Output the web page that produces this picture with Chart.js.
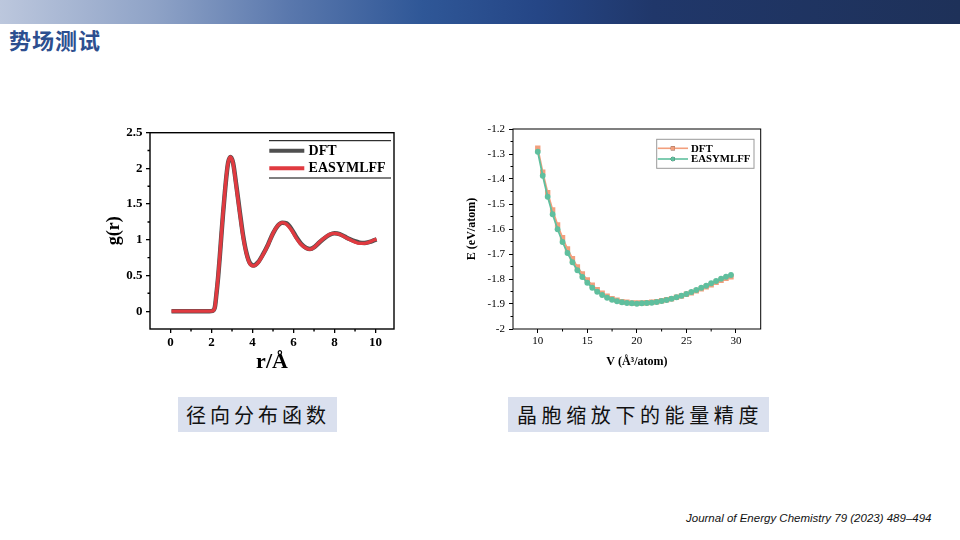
<!DOCTYPE html>
<html>
<head>
<meta charset="utf-8">
<script src="https://cdn.jsdelivr.net/npm/chart.js@4.4.1/dist/chart.umd.min.js"></script>
<style>
html, body { margin: 0; padding: 0; background: #fff; }
#slide { position: relative; width: 960px; height: 540px; overflow: hidden; background: #fff; }
#bar { position: absolute; left: 0; top: 0; width: 960px; height: 24px;
  background: linear-gradient(to right, #bcc7dd 0%, #8fa3c7 16%, #5a78ad 30%, #2f5797 44%, #254686 56%, #20376a 68%, #1e3159 100%); }
#title { position: absolute; left: 9px; top: 28px; font: bold 22px "Noto Sans CJK SC"; color: #2d4f8f; letter-spacing: 1px; line-height: 1; }
.cap { position: absolute; top: 397px; height: 35px; background: #dae0ee; font: 20px "Noto Sans CJK SC"; color: #111;
  line-height: 35px; white-space: nowrap; overflow: hidden; }
#cap1 { left: 178px; width: 159px; padding-left: 8px; box-sizing: border-box; letter-spacing: 4px; }
#cap2 { left: 508px; width: 261px; padding-left: 9px; box-sizing: border-box; letter-spacing: 4.6px; }
#ref { position: absolute; left: 686px; top: 512px; font: italic 11.5px "Liberation Sans", Arial, sans-serif; color: #111; white-space: nowrap; }
#rdf { position: absolute; left: 95px; top: 115px; }
#eos { position: absolute; left: 455px; top: 115px; }
</style>
</head>
<body>
<div id="slide">
  <div id="bar"></div>
  <div id="title">势场测试</div>
  <canvas id="rdf" width="310" height="275"></canvas>
  <canvas id="eos" width="315" height="260"></canvas>
  <div class="cap" id="cap1">径向分布函数</div>
  <div class="cap" id="cap2">晶胞缩放下的能量精度</div>
  <div id="ref">Journal of Energy Chemistry 79 (2023) 489–494</div>
</div>
<script>
// radial distribution function g(r)
var rVals = [0.05, 0.5, 1.0, 1.5, 1.9, 2.05, 2.16, 2.24, 2.32, 2.4, 2.48, 2.56, 2.65, 2.73, 2.81, 2.92,
  3.05, 3.21, 3.38, 3.54, 3.7, 3.86, 4.06, 4.27, 4.51, 4.76, 5.0, 5.24, 5.45, 5.65, 5.89,
  6.14, 6.38, 6.62, 6.8, 7.03, 7.27, 7.52, 7.76, 8.0, 8.25, 8.49, 8.73, 8.98, 9.22, 9.46, 9.71, 9.95, 10.05];
var gDft = [0, 0, 0, 0, 0, 0.005, 0.05, 0.24, 0.47, 0.75, 1.06, 1.36, 1.66, 1.9, 2.08, 2.16,
  2.08, 1.76, 1.39, 1.06, 0.82, 0.68, 0.64, 0.685, 0.795, 0.935, 1.09, 1.2, 1.24, 1.23, 1.155,
  1.035, 0.94, 0.885, 0.87, 0.9, 0.965, 1.025, 1.07, 1.09, 1.08, 1.045, 1.01, 0.98, 0.96, 0.955, 0.97, 0.995, 1.005];
var gMlff = [0, 0, 0, 0, 0, 0.005, 0.05, 0.25, 0.48, 0.76, 1.07, 1.37, 1.67, 1.91, 2.08, 2.16,
  2.07, 1.74, 1.37, 1.04, 0.81, 0.67, 0.635, 0.68, 0.79, 0.93, 1.09, 1.2, 1.24, 1.22, 1.14,
  1.02, 0.93, 0.88, 0.865, 0.9, 0.97, 1.03, 1.075, 1.09, 1.075, 1.04, 1.005, 0.97, 0.95, 0.95, 0.97, 1.0, 1.01];
var rTicks = [0, 2, 4, 6, 8, 10];
var rMinor = [1, 3, 5, 7, 9];
var gTicks = [0, 0.5, 1, 1.5, 2, 2.5];
var gMinor = [0.25, 0.75, 1.25, 1.75, 2.25];

// energy vs volume
var vVals = [10, 10.5, 11, 11.5, 12, 12.5, 13, 13.5, 14, 14.5, 15, 15.5, 16, 16.5, 17, 17.5, 18, 18.5, 19, 19.5,
  20, 20.5, 21, 21.5, 22, 22.5, 23, 23.5, 24, 24.5, 25, 25.5, 26, 26.5, 27, 27.5, 28, 28.5, 29, 29.5];
var eDft = [-1.277, -1.373, -1.455, -1.524, -1.584, -1.635, -1.68, -1.719, -1.752, -1.78,
  -1.804, -1.825, -1.843, -1.857, -1.869, -1.879, -1.885, -1.891, -1.893, -1.896,
  -1.896, -1.896, -1.895, -1.893, -1.891, -1.887, -1.883, -1.879, -1.873, -1.868,
  -1.861, -1.855, -1.847, -1.839, -1.831, -1.823, -1.813, -1.805, -1.797, -1.791];
var eMlff = [-1.291, -1.387, -1.471, -1.541, -1.601, -1.652, -1.696, -1.733, -1.765, -1.792,
  -1.815, -1.835, -1.851, -1.864, -1.875, -1.883, -1.889, -1.893, -1.896, -1.897,
  -1.899, -1.897, -1.896, -1.895, -1.892, -1.888, -1.884, -1.879, -1.873, -1.867,
  -1.86, -1.852, -1.844, -1.835, -1.827, -1.817, -1.808, -1.799, -1.791, -1.784];
var vTicks = [10, 15, 20, 25, 30];
var vMinor = [12.5, 17.5, 22.5, 27.5];
var eTicks = [-2, -1.9, -1.8, -1.7, -1.6, -1.5, -1.4, -1.3, -1.2];
var eMinor = [-1.95, -1.85, -1.75, -1.65, -1.55, -1.45, -1.35, -1.25];

var serif = "'Liberation Serif', 'Times New Roman', serif";

function pairs(xs, ys) {
    return xs.map(function(x, i) { return {x: x, y: ys[i]}; });
}

// box around plot area + minor ticks + legend
var framePlugin = {
    id: 'frame',
    afterDraw: function(chart, args, opts) {
        var ctx = chart.ctx, a = chart.chartArea;
        var xs = chart.scales.x, ys = chart.scales.y;
        ctx.save();
        ctx.strokeStyle = '#000';
        ctx.lineWidth = opts.lineWidth;
        ctx.strokeRect(a.left, a.top, a.right - a.left, a.bottom - a.top);
        ctx.beginPath();
        opts.xMinor.forEach(function(v) {
            var x = xs.getPixelForValue(v);
            ctx.moveTo(x, a.bottom); ctx.lineTo(x, a.bottom + opts.minorLen);
        });
        opts.yMinor.forEach(function(v) {
            var y = ys.getPixelForValue(v);
            ctx.moveTo(a.left, y); ctx.lineTo(a.left - opts.minorLen, y);
        });
        ctx.stroke();

        var L = opts.legend;
        var left = a.right - L.right - L.width, top = a.top + L.top;
        ctx.lineWidth = 1;
        if (L.box) {
            ctx.strokeStyle = '#999';
            ctx.strokeRect(left, top, L.width, L.height);
        } else {
            ctx.strokeStyle = '#000';
            ctx.beginPath();
            ctx.moveTo(left, top); ctx.lineTo(left + L.width, top);
            ctx.moveTo(left, top + L.height); ctx.lineTo(left + L.width, top + L.height);
            ctx.stroke();
        }
        ctx.font = 'bold ' + L.fontSize + 'px ' + serif;
        ctx.textBaseline = 'middle';
        chart.data.datasets.forEach(function(ds, i) {
            var y = top + L.rows[i];
            var x0 = left + L.lineStart, x1 = left + L.lineStart + L.lineLen;
            ctx.strokeStyle = ds.borderColor;
            ctx.lineWidth = L.lineWidth || ds.borderWidth;
            ctx.beginPath(); ctx.moveTo(x0, y); ctx.lineTo(x1, y); ctx.stroke();
            if (ds.pointRadius > 0) {
                Chart.helpers.drawPoint(ctx, {pointStyle: ds.pointStyle, rotation: 0, borderWidth: 0, radius: ds.pointRadius * 0.75}, (x0 + x1) / 2, y);
                ctx.fillStyle = ds.backgroundColor;
                ctx.fill();
            }
            ctx.fillStyle = '#000';
            ctx.fillText(ds.label, x1 + L.gap, y + 0.5);
        });
        ctx.restore();
    }
};

function axis(opts) {
    return {
        type: 'linear',
        min: opts.min, max: opts.max,
        afterBuildTicks: function(s) { s.ticks = opts.ticks.map(function(v) { return {value: v}; }); },
        afterFit: opts.fit,
        grid: {display: true, drawOnChartArea: false, drawTicks: true, tickLength: 4, color: '#000', tickColor: '#000', lineWidth: opts.tickWidth},
        border: {display: false},
        ticks: {padding: opts.pad, color: '#000', autoSkip: false, maxRotation: 0,
            font: {family: serif, size: opts.fontSize, weight: opts.weight},
            callback: function(v) { return String(v); }},
        title: {display: true, text: opts.title, color: '#000',
            font: {family: serif, size: opts.titleSize, weight: 'bold'}, padding: opts.titlePad}
    };
}

new Chart(document.getElementById('rdf'), {
    type: 'line',
    data: {
        datasets: [
            {label: 'DFT', data: pairs(rVals, gDft), borderColor: '#4f4f4f', borderWidth: 4.5,
                pointRadius: 0, cubicInterpolationMode: 'monotone', order: 1},
            {label: 'EASYMLFF', data: pairs(rVals, gMlff), borderColor: '#e03a40', borderWidth: 3.4,
                pointRadius: 0, cubicInterpolationMode: 'monotone', order: 0}
        ]
    },
    plugins: [framePlugin],
    options: {
        responsive: false, animation: false, events: [],
        layout: {padding: {left: 0, top: 17.7, right: 11, bottom: 6}},
        plugins: {
            legend: {display: false}, tooltip: {enabled: false},
            frame: {lineWidth: 1.4, minorLen: 2.5, xMinor: rMinor, yMinor: gMinor,
                legend: {box: false, right: 3, top: 8, width: 122, height: 37.3, rows: [10, 27.6],
                    lineStart: 0.3, lineLen: 35, gap: 4.3, fontSize: 14, lineWidth: 4}}
        },
        scales: {
            x: axis({min: -1, max: 10.9, ticks: rTicks, pad: 2, fontSize: 13, weight: 'bold', tickWidth: 1.3,
                title: 'r/Å', titleSize: 22, titlePad: {top: 0, bottom: 8.8},
                fit: function(s) { s.height = 55; }}),
            y: axis({min: -0.25, max: 2.5, ticks: gTicks, pad: 3.5, fontSize: 13, weight: 'bold', tickWidth: 1.3,
                title: 'g(r)', titleSize: 18, titlePad: {top: 8.3, bottom: 0},
                fit: function(s) { s.width = 55; }})
        }
    }
});

new Chart(document.getElementById('eos'), {
    type: 'line',
    data: {
        datasets: [
            {label: 'DFT', data: pairs(vVals, eDft), borderColor: '#f29f7d', backgroundColor: '#f29f7d',
                borderWidth: 1.8, pointStyle: 'rect', pointRadius: 3.8, pointBorderWidth: 0, tension: 0, order: 1},
            {label: 'EASYMLFF', data: pairs(vVals, eMlff), borderColor: '#5fbf9e', backgroundColor: '#5fbf9e',
                borderWidth: 1.8, pointStyle: 'circle', pointRadius: 2.9, pointBorderWidth: 0, tension: 0, order: 0}
        ]
    },
    plugins: [framePlugin],
    options: {
        responsive: false, animation: false, events: [],
        layout: {padding: {left: 0, top: 14, right: 9.3, bottom: 4}},
        plugins: {
            legend: {display: false}, tooltip: {enabled: false},
            frame: {lineWidth: 1, minorLen: 2.5, xMinor: vMinor, yMinor: eMinor,
                legend: {box: true, right: 6.7, top: 10.3, width: 97.3, height: 29, rows: [9, 19.7],
                    lineStart: 1, lineLen: 30.3, gap: 3, fontSize: 10.8, lineWidth: 1.6}}
        },
        scales: {
            x: axis({min: 7.5, max: 32.5, ticks: vTicks, pad: 1.5, fontSize: 11, weight: 'normal', tickWidth: 1,
                title: 'V (Å³/atom)', titleSize: 12, titlePad: {top: 0, bottom: 2.1},
                fit: function(s) { s.height = 42; }}),
            y: axis({min: -2, max: -1.2, ticks: eTicks, pad: 4, fontSize: 11, weight: 'normal', tickWidth: 1,
                title: 'E (eV/atom)', titleSize: 12, titlePad: {top: 9.5, bottom: 0},
                fit: function(s) { s.width = 58; }})
        }
    }
});
</script>
</body>
</html>
